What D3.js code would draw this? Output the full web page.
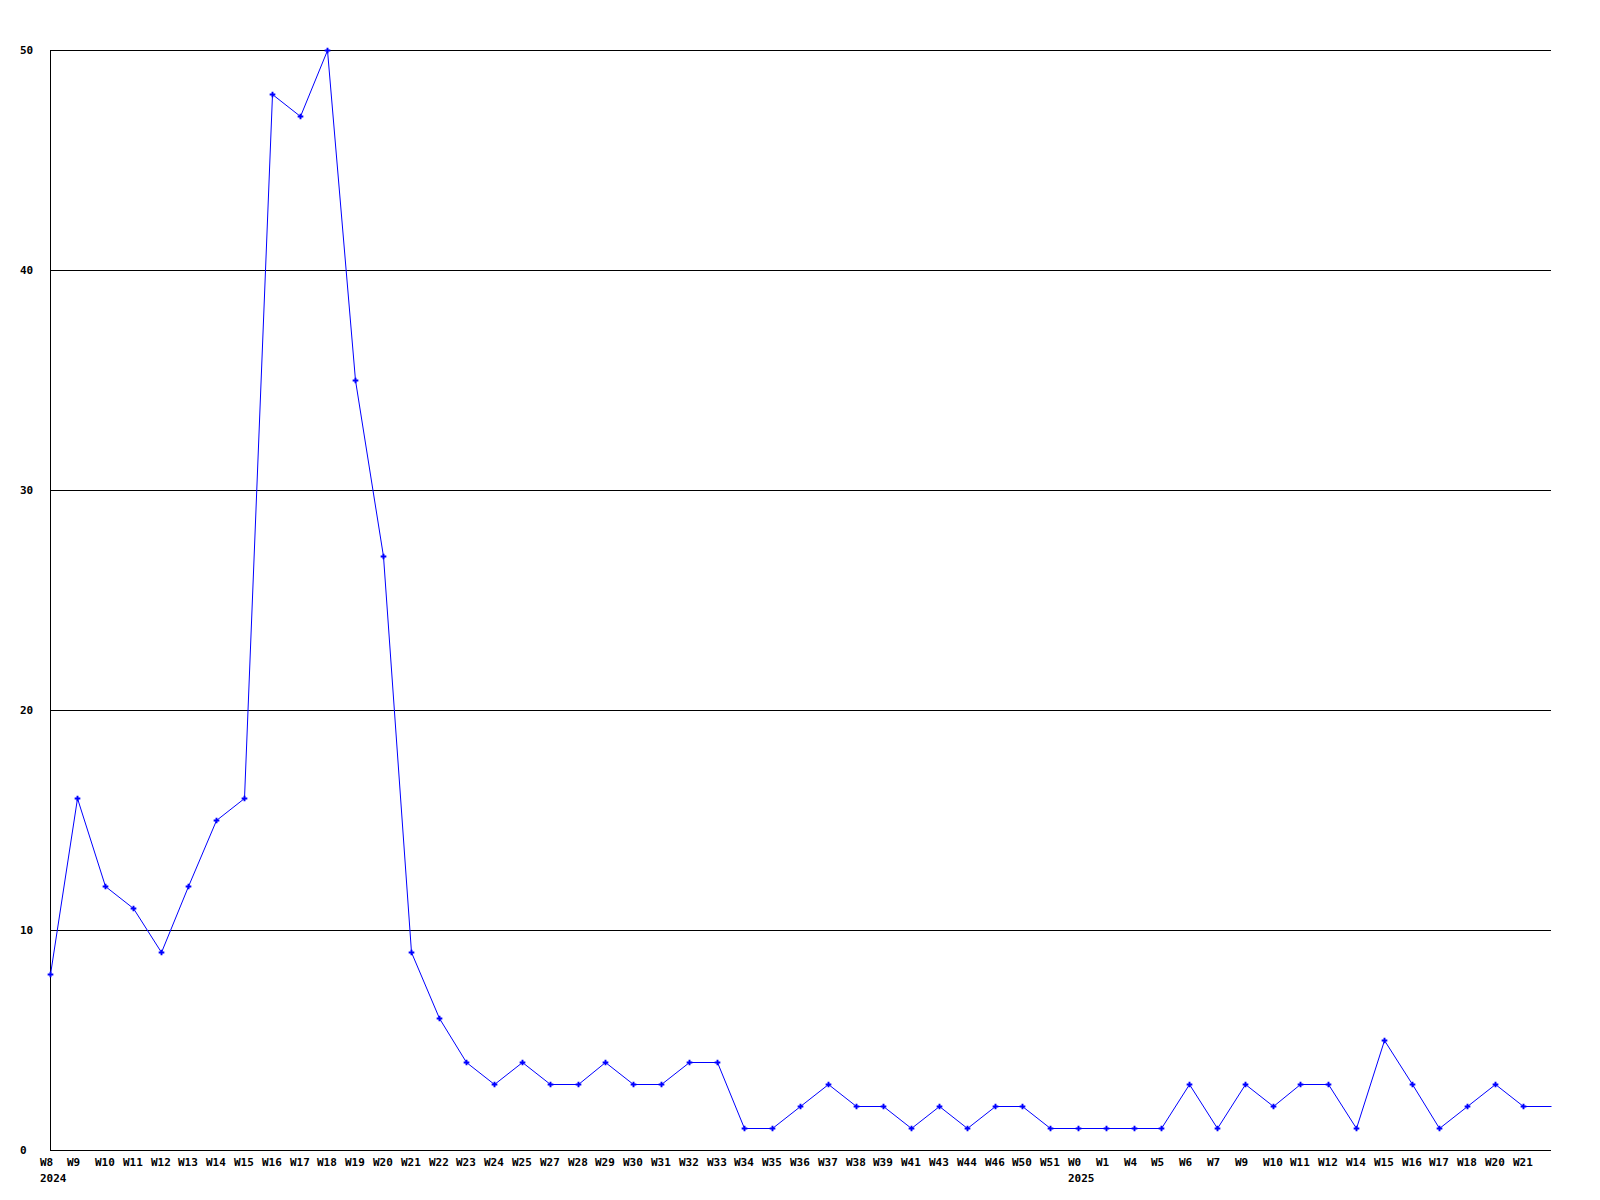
<!DOCTYPE html>
<html>
<head>
<meta charset="utf-8">
<script src="https://cdn.jsdelivr.net/npm/d3@7"></script>
<style>
  html, body { margin: 0; padding: 0; background: #fff; }
  svg text { font-family: "DejaVu Sans Mono", "Liberation Mono", monospace; font-weight: bold; font-size: 11px; fill: #000; }
</style>
</head>
<body>
<svg id="chart" width="1600" height="1200"></svg>
<script>
const weeks = ["W8","W9","W10","W11","W12","W13","W14","W15","W16","W17","W18","W19","W20","W21","W22","W23","W24","W25","W27","W28","W29","W30","W31","W32","W33","W34","W35","W36","W37","W38","W39","W41","W43","W44","W46","W50","W51","W0","W1","W4","W5","W6","W7","W9","W10","W11","W12","W14","W15","W16","W17","W18","W20","W21"];
const values = [8,16,12,11,9,12,15,16,48,47,50,35,27,9,6,4,3,4,3,3,4,3,3,4,4,1,1,2,3,2,2,1,2,1,2,2,1,1,1,1,1,3,1,3,2,3,3,1,5,3,1,2,3,2];
const yearLabels = [{index: 0, label: "2024"}, {index: 37, label: "2025"}];
const yTicks = [0,10,20,30,40,50];

const svg = d3.select("#chart");
const mLeft = 50, mRight = 1551, mTop = 50, mBottom = 1150;

const x = d3.scaleLinear().domain([0, weeks.length]).range([mLeft, mRight]);
const y = d3.scaleLinear().domain([0, 50]).range([mBottom, mTop]);
const px = v => Math.floor(x(v)) + 0.5;

// gridlines
svg.append("g").selectAll("line").data(yTicks.filter(d => d > 0)).join("line")
  .attr("x1", mLeft).attr("x2", mRight)
  .attr("y1", d => Math.round(y(d)) + 0.5).attr("y2", d => Math.round(y(d)) + 0.5)
  .attr("stroke", "#000").attr("stroke-width", 1).attr("shape-rendering", "crispEdges");

// axes lines
svg.append("line").attr("x1", mLeft + 0.5).attr("x2", mLeft + 0.5).attr("y1", mTop).attr("y2", mBottom + 0.5)
  .attr("stroke", "#000").attr("shape-rendering", "crispEdges");
svg.append("line").attr("x1", mLeft).attr("x2", mRight).attr("y1", mBottom + 0.5).attr("y2", mBottom + 0.5)
  .attr("stroke", "#000").attr("shape-rendering", "crispEdges");

// y labels
svg.append("g").selectAll("text").data(yTicks).join("text")
  .attr("x", 20).attr("y", d => y(d) + 4)
  .text(d => d);

// x labels
svg.append("g").selectAll("text").data(weeks).join("text")
  .attr("x", (d, i) => Math.floor(x(i)) - 10).attr("y", mBottom + 16)
  .text(d => d);

svg.append("g").selectAll("text").data(yearLabels).join("text")
  .attr("x", d => Math.floor(x(d.index)) - 10).attr("y", mBottom + 32)
  .text(d => d.label);

// line (extends flat to plot end with the last value)
const linePts = values.map((v, i) => [i, v]).concat([[weeks.length, values[values.length - 1]]]);
svg.append("path")
  .datum(linePts)
  .attr("fill", "none").attr("stroke", "#0000ff").attr("stroke-width", 1)
  .attr("d", d3.line().x(d => px(d[0])).y(d => Math.round(y(d[1])) + 0.5));

// markers
svg.append("g").selectAll("path").data(values).join("path")
  .attr("transform", (d, i) => `translate(${px(i)},${Math.round(y(d)) + 0.5})`)
  .attr("d", d3.symbol(d3.symbolCross, 18))
  .attr("fill", "#0000ff");
</script>
</body>
</html>
